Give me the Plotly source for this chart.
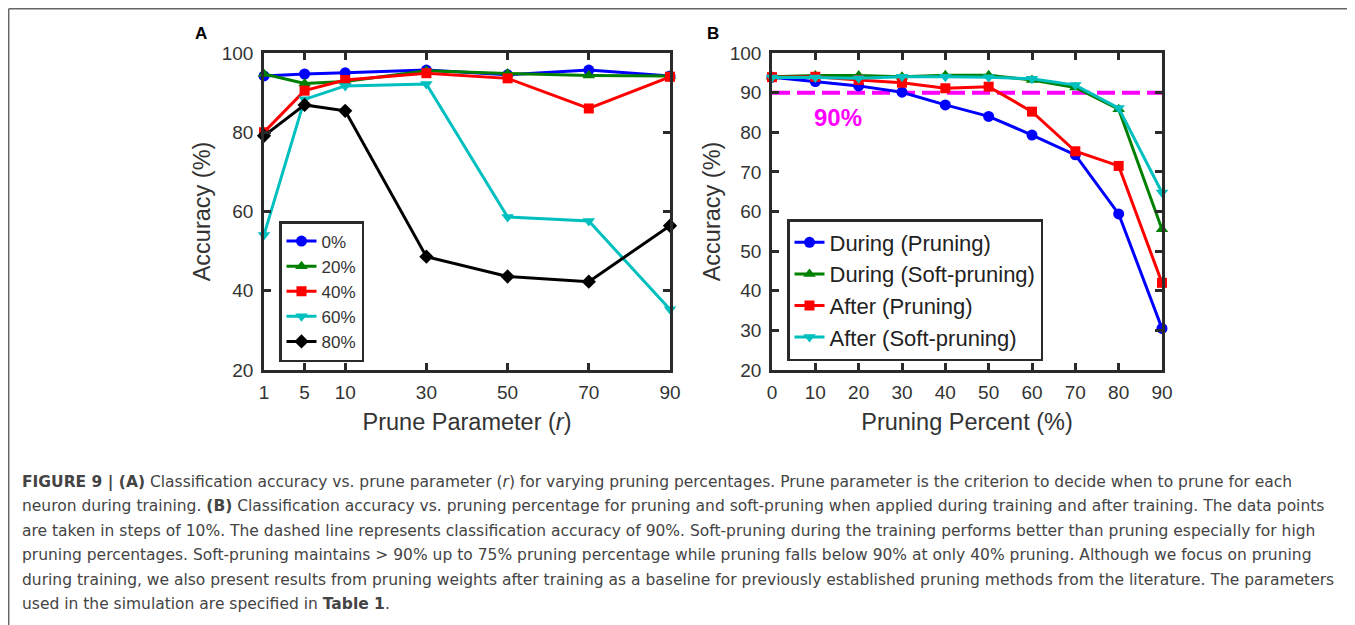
import plotly.graph_objects as go

# ---------------- Data ----------------
# Panel A: accuracy vs prune parameter r
prune_r = [1, 5, 10, 30, 50, 70, 90]
prune_r_axis_pos = [0, 0.5, 1, 2, 3, 4, 5]  # axis slot of each r tick (non-uniform tick spacing)
acc_0 = [94.2, 94.7, 95.0, 95.7, 94.5, 95.7, 94.2]
acc_20 = [94.7, 92.3, 92.8, 95.5, 94.8, 94.3, 94.2]
acc_40 = [80.0, 90.5, 93.2, 94.9, 93.6, 86.0, 94.0]
acc_60 = [54.1, 88.3, 91.7, 92.2, 58.6, 57.6, 35.3]
acc_80 = [79.1, 86.9, 85.4, 48.6, 43.6, 42.3, 56.4]
series_a_names = ["0%", "20%", "40%", "60%", "80%"]

# Panel B: accuracy vs pruning percent
prune_pct = [0, 10, 20, 30, 40, 50, 60, 70, 80, 90]
during_pruning = [93.9, 92.8, 91.7, 90.1, 86.9, 84.0, 79.3, 74.3, 59.4, 30.5]
during_soft = [94.0, 94.3, 94.3, 94.0, 94.4, 94.4, 93.2, 91.3, 85.8, 55.5]
after_pruning = [93.9, 94.0, 93.2, 92.5, 91.1, 91.5, 85.2, 75.2, 71.5, 42.0]
after_soft = [93.8, 93.8, 93.6, 94.0, 94.0, 93.9, 93.5, 91.9, 86.1, 64.8]
series_b_names = ["During (Pruning)", "During (Soft-pruning)", "After (Pruning)", "After (Soft-pruning)"]
threshold = 90

caption_lines = [
    "<b>FIGURE 9 | (A)</b> Classification accuracy vs. prune parameter (<i>r</i>) for varying pruning percentages. Prune parameter is the criterion to decide when to prune for each",
    "neuron during training. <b>(B)</b> Classification accuracy vs. pruning percentage for pruning and soft-pruning when applied during training and after training. The data points",
    "are taken in steps of 10%. The dashed line represents classification accuracy of 90%. Soft-pruning during the training performs better than pruning especially for high",
    "pruning percentages. Soft-pruning maintains &gt; 90% up to 75% pruning percentage while pruning falls below 90% at only 40% pruning. Although we focus on pruning",
    "during training, we also present results from pruning weights after training as a baseline for previously established pruning methods from the literature. The parameters",
    "used in the simulation are specified in <b>Table 1</b>.",
]

# ---------------- Figure ----------------
# The page body has an 8px margin, so the figure is 8px smaller and
# screen coordinates are shifted by 8px.
OFF = 8
W, H = 1355 - OFF, 625 - OFF
def px(x):
    return (x - OFF) / W
def py(y):
    return 1 - (y - OFF) / H

FONT = "Liberation Sans, Arial, sans-serif"
colors = ["#0000ff", "#008000", "#ff0000", "#00bfbf", "#000000"]
symbols_a = ["circle", "triangle-up", "square", "triangle-down", "diamond"]
symbols_b = ["circle", "triangle-up", "square", "triangle-down"]
sizes = [11, 11, 10, 11, 11]

fig = go.Figure()

for name, ys, c, s, sz in zip(series_a_names, [acc_0, acc_20, acc_40, acc_60, acc_80], colors, symbols_a, sizes):
    fig.add_trace(go.Scatter(
        x=prune_r_axis_pos, y=ys, name=name, mode="lines+markers",
        line=dict(color=c, width=3), marker=dict(symbol=s, size=sz, color=c),
        xaxis="x", yaxis="y", legend="legend", cliponaxis=False,
    ))

fig.add_trace(go.Scatter(
    x=[prune_pct[0], prune_pct[-1]], y=[threshold, threshold], mode="lines",
    line=dict(color="#ff00ff", width=4, dash="18px,7px"), showlegend=False,
    xaxis="x2", yaxis="y2", hoverinfo="skip",
))

for name, ys, c, s, sz in zip(series_b_names, [during_pruning, during_soft, after_pruning, after_soft], colors, symbols_b, sizes):
    fig.add_trace(go.Scatter(
        x=prune_pct, y=ys, name=name, mode="lines+markers",
        line=dict(color=c, width=3), marker=dict(symbol=s, size=sz, color=c),
        xaxis="x2", yaxis="y2", legend="legend2", cliponaxis=False,
    ))

axis_common = dict(
    showline=True, linecolor="#2a2a2a", linewidth=2.5, mirror="ticks",
    ticks="inside", ticklen=7, tickwidth=2.5, tickcolor="#2a2a2a",
    showgrid=False, zeroline=False, automargin=False,
    tickfont=dict(family=FONT, size=19, color="#333333"),
)
title_font = dict(family=FONT, size=23.5, color="#333333")

fig.update_layout(
    template="none",
    width=W, height=H, margin=dict(l=0, r=0, t=0, b=0, pad=0, autoexpand=False),
    paper_bgcolor="white", plot_bgcolor="white",
    font=dict(family=FONT, color="#333333"),
    xaxis=dict(domain=[px(264), px(670)], range=[0, 5], anchor="y",
               tickvals=prune_r_axis_pos, ticktext=[str(v) for v in prune_r],
               ticklabelstandoff=3,
               title=dict(text="Prune Parameter (<i>r</i>)", font=title_font, standoff=13),
               **axis_common),
    yaxis=dict(domain=[py(370), py(53)], range=[20, 100], dtick=20, anchor="x",
               ticklabelstandoff=4,
               title=dict(text="Accuracy (%)", font=title_font, standoff=5),
               **axis_common),
    xaxis2=dict(domain=[px(772), px(1162)], range=[0, 90], dtick=10, anchor="y2",
                ticklabelstandoff=3,
                title=dict(text="Pruning Percent (%)", font=title_font, standoff=13),
                **axis_common),
    yaxis2=dict(domain=[py(370), py(53)], range=[20, 100], dtick=10, anchor="x2",
                ticklabelstandoff=4,
                title=dict(text="Accuracy (%)", font=title_font, standoff=3),
                **axis_common),
    legend=dict(x=px(279), y=py(221), xanchor="left", yanchor="top",
                bordercolor="#2a2a2a", borderwidth=2.5, bgcolor="white",
                font=dict(family=FONT, size=17, color="#333333"),
                itemwidth=30, tracegroupgap=0),
    legend2=dict(x=px(787), y=py(219), xanchor="left", yanchor="top",
                 bordercolor="#2a2a2a", borderwidth=2.5, bgcolor="white",
                 font=dict(family=FONT, size=22, color="#222222"),
                 itemwidth=30, tracegroupgap=0),
    showlegend=True,
)

annotations = [
    dict(text="<b>A</b>", x=px(201), y=py(33), xref="paper", yref="paper", showarrow=False,
         xanchor="center", yanchor="middle",
         font=dict(family=FONT, size=17, color="#000000")),
    dict(text="<b>B</b>", x=px(713), y=py(33), xref="paper", yref="paper", showarrow=False,
         xanchor="center", yanchor="middle",
         font=dict(family=FONT, size=17, color="#000000")),
    dict(text="<b>90%</b>", x=15.2, y=83.8, xref="x2", yref="y2", showarrow=False,
         xanchor="center", yanchor="middle",
         font=dict(family=FONT, size=24, color="#ff00ff")),
]
line_y = [482, 506, 531, 555, 580, 604]
for t, yy in zip(caption_lines, line_y):
    annotations.append(dict(
        text=t, x=px(20), y=py(yy), xref="paper", yref="paper", xanchor="left", yanchor="middle",
        showarrow=False, align="left",
        font=dict(family="DejaVu Sans", size=15.5, color="#444444"),
    ))
fig.update_layout(annotations=annotations)

fig.update_layout(shapes=[
    dict(type="line", xref="paper", yref="paper", x0=0.7 / W, x1=1, y0=1 - 0.7 / H, y1=1 - 0.7 / H,
         line=dict(color="#666666", width=1.5)),
    dict(type="line", xref="paper", yref="paper", x0=0.7 / W, x1=0.7 / W, y0=1 - 0.7 / H, y1=0,
         line=dict(color="#666666", width=1.5)),
])

fig.write_html("out.html")
